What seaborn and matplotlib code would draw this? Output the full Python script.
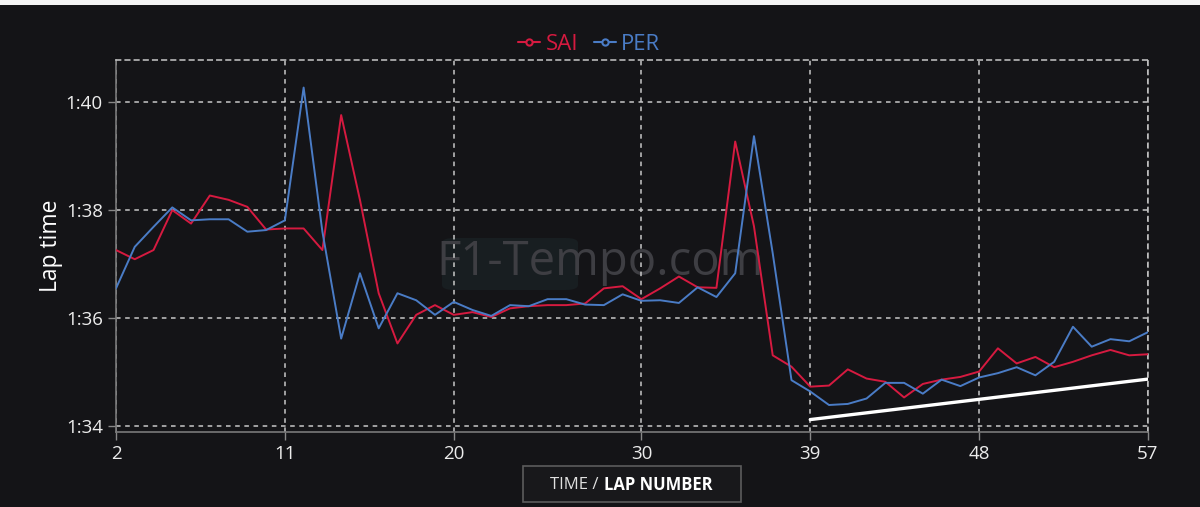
import numpy as np
import pandas as pd
import matplotlib
matplotlib.use("Agg")
import matplotlib.pyplot as plt
import seaborn as sns
from matplotlib.lines import Line2D
from matplotlib.patches import Rectangle, FancyBboxPatch
from matplotlib.ticker import FuncFormatter

# Lap numbers and lap times (seconds)
laps = list(range(2, 58))
sai_times = [97.26, 97.09, 97.26, 98.00, 97.75, 98.27, 98.19, 98.06, 97.64, 97.66,
             97.66, 97.26, 99.76, 98.19, 96.46, 95.53, 96.06, 96.24, 96.06, 96.11,
             96.02, 96.18, 96.22, 96.24, 96.24, 96.27, 96.55, 96.59, 96.35, 96.55,
             96.77, 96.57, 96.56, 99.27, 97.70, 95.31, 95.10, 94.73, 94.75, 95.05,
             94.88, 94.82, 94.53, 94.78, 94.86, 94.91, 95.01, 95.44, 95.16, 95.28,
             95.09, 95.19, 95.31, 95.41, 95.31, 95.33]
per_times = [96.55, 97.32, 97.69, 98.05, 97.81, 97.83, 97.83, 97.60, 97.63, 97.81,
             100.27, 97.60, 95.62, 96.83, 95.81, 96.46, 96.33, 96.06, 96.30, 96.15,
             96.04, 96.24, 96.22, 96.35, 96.35, 96.25, 96.24, 96.44, 96.32, 96.33,
             96.28, 96.57, 96.39, 96.83, 99.37, 97.20, 94.85, 94.64, 94.39, 94.41,
             94.51, 94.80, 94.80, 94.60, 94.86, 94.74, 94.90, 94.98, 95.09, 94.94,
             95.19, 95.84, 95.47, 95.61, 95.57, 95.74]

# Trend line drawn over the last stint
trend_laps = [39, 57]
trend_times = [94.12, 94.87]

x_ticks = [2, 11, 20, 30, 39, 48, 57]
y_ticks = [94, 96, 98, 100]

drivers = ["SAI", "PER"]
colors = {"SAI": "#d61a40", "PER": "#4a7cc6"}
bg = "#141417"

df = pd.DataFrame({
    "lap": laps * 2,
    "time": sai_times + per_times,
    "driver": ["SAI"] * len(laps) + ["PER"] * len(laps),
})

sns.set_theme(style="dark")
plt.rcParams["font.family"] = ["Open Sans", "DejaVu Sans"]

fig = plt.figure(figsize=(12, 5.07), dpi=100, facecolor=bg)
ax = fig.add_axes([116 / 1200, 1 - 432 / 507, 1032 / 1200, 372 / 507])
ax.set_facecolor(bg)

sns.lineplot(data=df, x="lap", y="time", hue="driver", palette=colors,
             hue_order=drivers, linewidth=1.4, ax=ax, legend=False, zorder=3)
sns.lineplot(x=trend_laps, y=trend_times, color="white", linewidth=2.4, ax=ax, zorder=4)

ax.set_xlim(2, 57)
ax.set_ylim(93.89, 100.78)
ax.set_xticks(x_ticks)
ax.set_yticks(y_ticks)
ax.yaxis.set_major_formatter(FuncFormatter(lambda v, p: f"{int(v // 60)}:{int(round(v % 60)):02d}"))

ax.set_axisbelow(True)
ax.grid(True, color="#c8c8c8", linestyle=(0, (3, 3)), linewidth=1.1)
ax.tick_params(axis="both", colors="#888888", labelcolor="#ececec", labelsize=13.5,
               length=6, width=1, direction="out", bottom=True, left=True)
for side in ["left", "bottom"]:
    ax.spines[side].set_color("#7a7a7a")
    ax.spines[side].set_linewidth(1.2)
for side in ["top", "right"]:
    ax.spines[side].set_color("#c8c8c8")
    ax.spines[side].set_linestyle((0, (3, 3)))
    ax.spines[side].set_linewidth(1.1)

ax.set_xlabel("")
ax.set_ylabel("Lap time", color="white", fontsize=16.5, labelpad=2)

# Watermark with its faint logo box, kept behind the grid and the lines
ax.add_patch(FancyBboxPatch((442 / 1200, 1 - 290 / 507), 136 / 1200, 52 / 507,
                            boxstyle="round,pad=0,rounding_size=0.01",
                            transform=fig.transFigure, facecolor="#181e21",
                            edgecolor="none", zorder=0.3))
ax.text(600 / 1200, 1 - 262 / 507, "F1-Tempo.com", transform=fig.transFigure,
        ha="center", va="center", fontsize=34, color="#3e3e43", zorder=0.4)

# Legend
handles = [Line2D([], [], color=colors[d], lw=1.5, marker="o", markersize=4.5,
                  markerfacecolor=bg, markeredgewidth=1.5) for d in drivers]
fig.legend(handles, drivers, loc="center", bbox_to_anchor=(589 / 1200, 1 - 44 / 507),
           ncol=2, frameon=False, fontsize=16, handlelength=1.0, handletextpad=0.25,
           columnspacing=0.7, labelcolor=[colors[d] for d in drivers])

# X axis label box
fig.patches.append(Rectangle((523 / 1200, 1 - 502 / 507), 218 / 1200, 36 / 507,
                             transform=fig.transFigure, facecolor="#18181b",
                             edgecolor="#5c5c5c", linewidth=1.2))
fig.text(599 / 1200, 1 - 485 / 507, "TIME /", ha="right", va="center",
         fontsize=12, color="#e0e0e0")
fig.text(604 / 1200, 1 - 485 / 507, "LAP NUMBER", ha="left", va="center",
         fontsize=12, color="white", fontweight="bold")

# White strip at the very top of the screenshot
fig.patches.append(Rectangle((0, 1 - 5 / 507), 1, 5 / 507, transform=fig.transFigure,
                             facecolor="#f4f4f4", edgecolor="none"))

fig.savefig("out.png", dpi=100, facecolor=bg)
plt.close(fig)
